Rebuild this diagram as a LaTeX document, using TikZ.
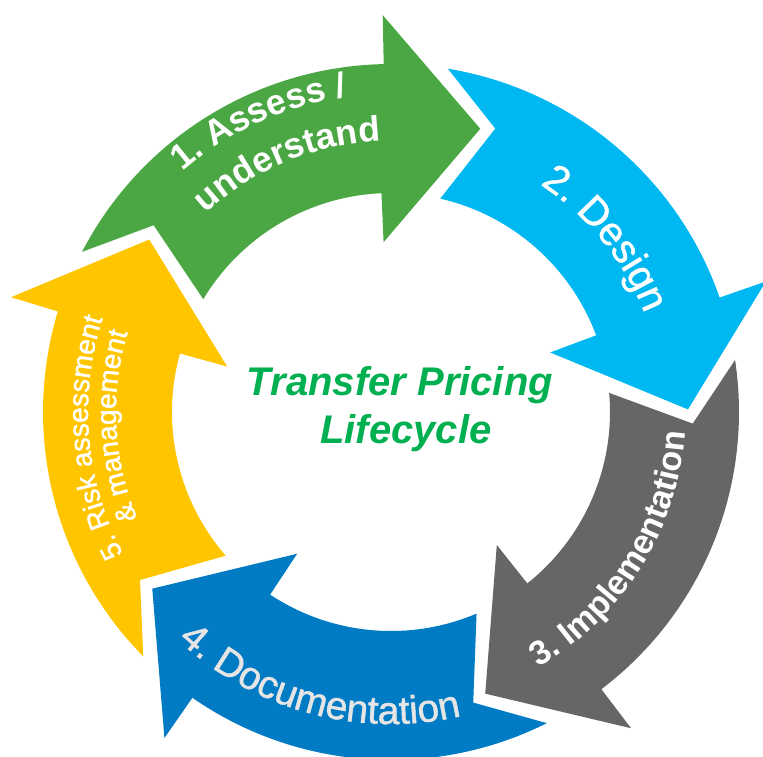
\documentclass[tikz,border=0pt]{standalone}
\usepackage{fontspec}
\setmainfont{Liberation Sans}
\newfontfamily\medsans[FakeBold=1.2]{Liberation Sans}
\usetikzlibrary{decorations.text}

\definecolor{assessgreen}{RGB}{75,167,67}
\definecolor{designblue}{RGB}{0,184,241}
\definecolor{implgray}{RGB}{102,102,102}
\definecolor{docblue}{RGB}{0,123,196}
\definecolor{riskyellow}{RGB}{255,198,0}
\definecolor{titlegreen}{RGB}{0,176,80}

\begin{document}
\begin{tikzpicture}[
		label arc/.style={decorate, decoration={text along path, text align=center, text color=white, text={#1}}},
		title/.style={font=\fontsize{40}{48}\selectfont\bfseries\itshape, text=titlegreen, anchor=base, inner sep=0pt}]
		\useasboundingbox (-391pt,-344pt) rectangle (372pt,412pt);

		\foreach \k/\col in {0/assessgreen,1/designblue,2/implgray,3/docblue,4/riskyellow}{
			\begin{scope}[rotate=-72*\k]
				\fill[\col] (152.6:348pt) arc[start angle=152.6, end angle=91.2, radius=348pt] -- (91.2:397pt) -- (72.5:297pt) -- (92.5:170pt) -- (92.5:219pt) arc[start angle=92.5, end angle=149, radius=219pt] -- (141.8:302pt) -- cycle;
			\end{scope}
		}

		\path[label arc={|\fontsize{35.5}{42}\selectfont\bfseries|1. Assess /}] (150:318pt) arc[start angle=150, end angle=79, radius=318pt];
		\path[label arc={|\fontsize{35.5}{42}\selectfont\bfseries|understand}] (150:271pt) arc[start angle=150, end angle=75.2, radius=271pt];
		\path[label arc={|\fontsize{40}{48}\medsans|2. Design}] (80:272pt) arc[start angle=80, end angle=-2, radius=272pt];
		\path[label arc={|\fontsize{34}{40}\selectfont\bfseries|3. Implementation}] (-72:295pt) arc[start angle=-72, end angle=8, radius=295pt];
		\path[label arc={|\fontsize{39}{46}\medsans|4. Documentation}, decoration={text color=white!90!black}] (-145:312pt) arc[start angle=-145, end angle=-65, radius=312pt];
		\path[label arc={|\fontsize{28}{34}\medsans|5. Risk assessment}] (225:303pt) arc[start angle=225, end angle=145, radius=303pt];
		\path[label arc={|\fontsize{28}{34}\medsans|{\&} management}] (223:275pt) arc[start angle=223, end angle=143, radius=275pt];

		\node[title] (transfer) at (9pt,17pt) {Transfer Pricing};
		\node[title] (lifecycle) at (15pt,-31pt) {Lifecycle};
	\end{tikzpicture}
\end{document}
